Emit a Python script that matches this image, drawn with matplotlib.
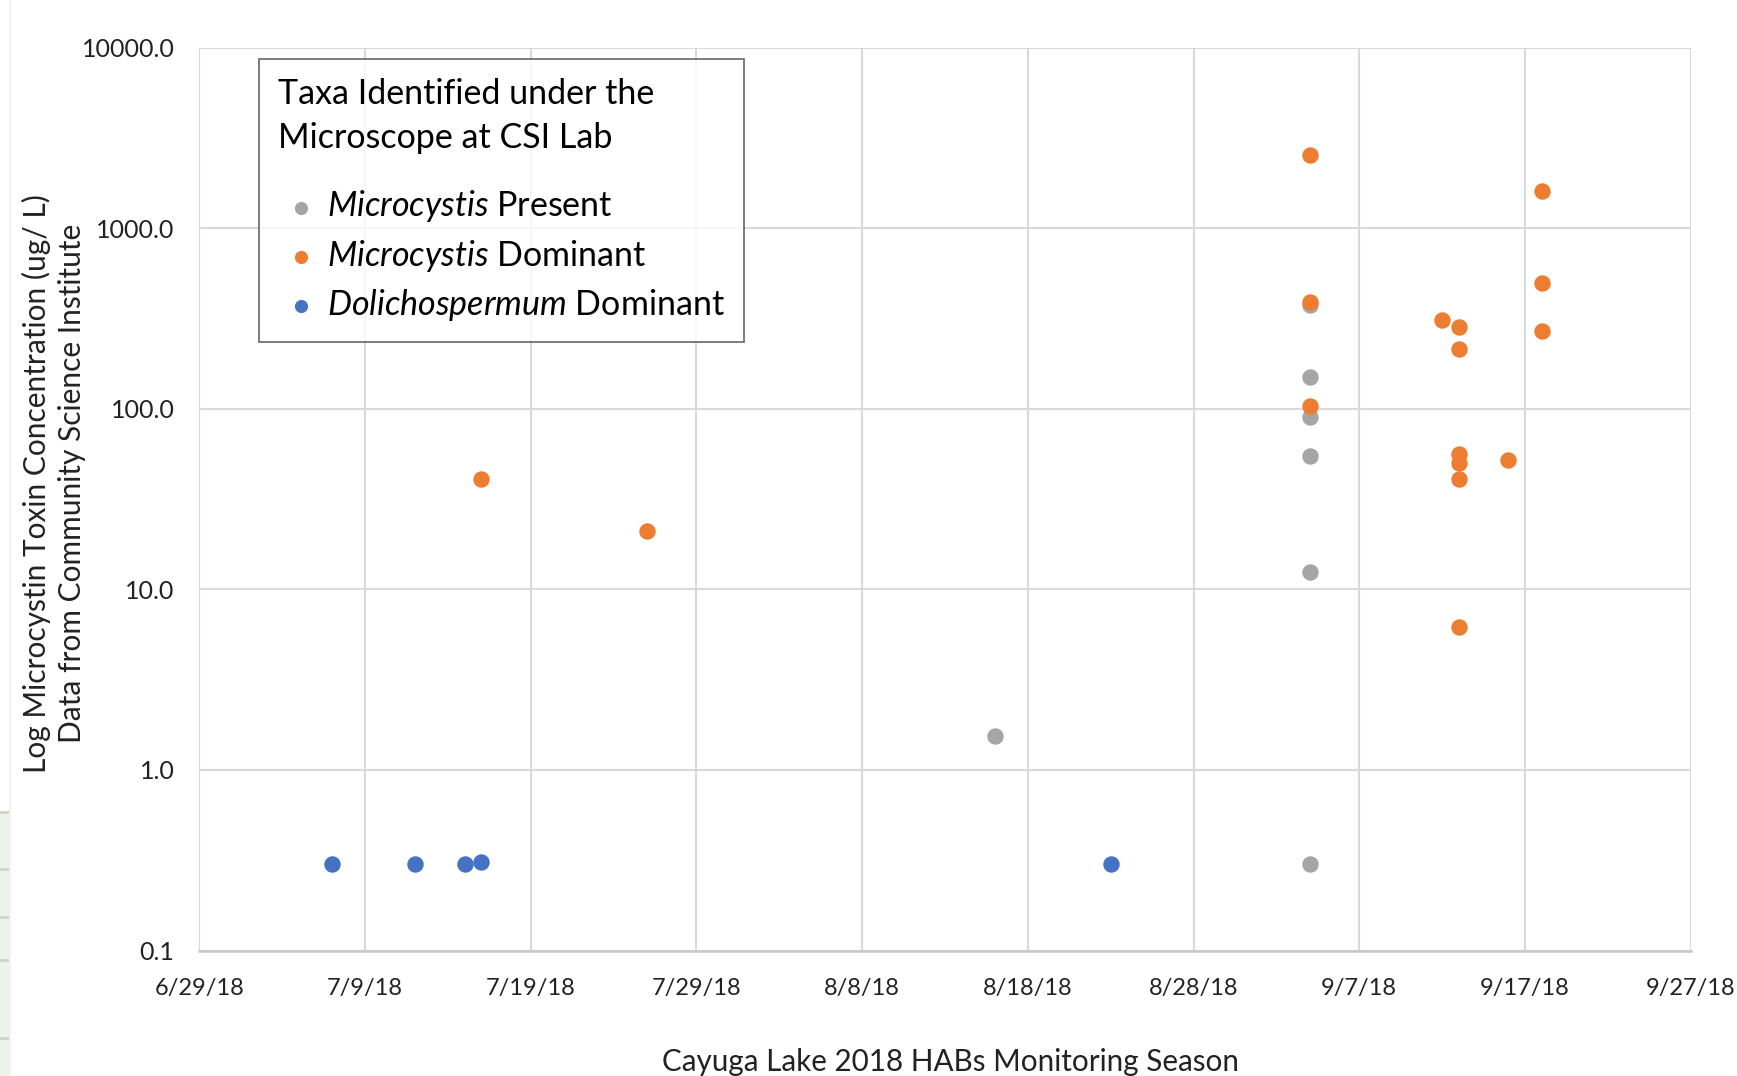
import datetime as dt
import matplotlib
matplotlib.use("Agg")
import matplotlib.pyplot as plt
import matplotlib.dates as mdates
from matplotlib.patches import Rectangle
from matplotlib.ticker import FixedLocator, FuncFormatter

plt.rcParams['font.family'] = ['Lato', 'DejaVu Sans']
plt.rcParams['mathtext.fontset'] = 'custom'
plt.rcParams['mathtext.it'] = 'Lato:italic'
plt.rcParams['mathtext.rm'] = 'Lato'

# Microcystis present (gray)
present_dates = ["2018-08-16", "2018-09-04", "2018-09-04", "2018-09-04",
                 "2018-09-04", "2018-09-04", "2018-09-04"]
present_vals = [1.55, 0.30, 12.4, 54.8, 90.0, 150.0, 374.0]

# Microcystis dominant (orange)
dominant_dates = ["2018-07-16", "2018-07-26", "2018-09-04", "2018-09-04", "2018-09-04",
                  "2018-09-12", "2018-09-13", "2018-09-13", "2018-09-13", "2018-09-13",
                  "2018-09-13", "2018-09-13", "2018-09-16", "2018-09-18", "2018-09-18",
                  "2018-09-18"]
dominant_vals = [41.0, 21.1, 2530.0, 392.0, 103.0,
                 312.0, 283.0, 213.0, 56.2, 49.8,
                 41.0, 6.15, 52.3, 1611.0, 500.0,
                 271.0]

# Dolichospermum dominant (blue)
dolicho_dates = ["2018-07-07", "2018-07-12", "2018-07-15", "2018-07-16", "2018-08-23"]
dolicho_vals = [0.30, 0.30, 0.30, 0.31, 0.30]

x_ticks = ["2018-06-29", "2018-07-09", "2018-07-19", "2018-07-29", "2018-08-08",
           "2018-08-18", "2018-08-28", "2018-09-07", "2018-09-17", "2018-09-27"]
x_tick_labels = ["6/29/18", "7/9/18", "7/19/18", "7/29/18", "8/8/18",
                 "8/18/18", "8/28/18", "9/7/18", "9/17/18", "9/27/18"]
y_ticks = [0.1, 1, 10, 100, 1000, 10000]

GRAY = '#A5A5A5'
ORANGE = '#ED7D31'
BLUE = '#4472C4'


def to_dates(lst):
    return [dt.datetime.strptime(s, "%Y-%m-%d") for s in lst]


fig = plt.figure(figsize=(17.37, 10.76), dpi=100, facecolor='white')

# bit of spreadsheet showing at the left edge of the screenshot
fig.patches.append(Rectangle((0, 0), 0.0052, 0.2454, transform=fig.transFigure,
                             facecolor='#EDF3EA', edgecolor='none', zorder=0))
for yy in [0.2454, 0.1924, 0.1478, 0.1078, 0.0353]:
    fig.lines.append(plt.Line2D([0, 0.0052], [yy, yy], transform=fig.transFigure,
                                color='#C9D6C3', lw=2))
fig.lines.append(plt.Line2D([0.0058, 0.0058], [0, 1], transform=fig.transFigure,
                            color='#F2F2F2', lw=1.5))

ax = fig.add_axes([0.1148, 0.1166, 0.8585, 0.8392])

ms = 140
ax.scatter(to_dates(present_dates), present_vals, s=ms, color=GRAY, lw=0, zorder=3,
           label=r'$\mathit{Microcystis}$ Present')
ax.scatter(to_dates(dominant_dates), dominant_vals, s=ms, color=ORANGE, lw=0, zorder=4,
           label=r'$\mathit{Microcystis}$ Dominant')
ax.scatter(to_dates(dolicho_dates), dolicho_vals, s=ms, color=BLUE, lw=0, zorder=5,
           label=r'$\mathit{Dolichospermum}$ Dominant')

ax.set_yscale('log')
ax.set_ylim(0.1, 10000)
xt = mdates.date2num(to_dates(x_ticks))
ax.set_xlim(xt[0], xt[-1])
ax.set_xticks(xt)
ax.set_xticklabels(x_tick_labels)
ax.yaxis.set_major_locator(FixedLocator(y_ticks))
ax.yaxis.set_minor_locator(FixedLocator([]))
ax.yaxis.set_major_formatter(FuncFormatter(lambda v, p: f"{v:.1f}"))

ax.grid(True, which='major', color='#D9D9D9', linewidth=1.5)
ax.set_axisbelow(True)
for s in ['top', 'right', 'left']:
    ax.spines[s].set_visible(False)
ax.spines['bottom'].set_color('#C8C8C8')
ax.spines['bottom'].set_linewidth(1.8)
ax.tick_params(axis='y', length=0, pad=18, labelsize=18, labelcolor='#222222')
ax.tick_params(axis='x', length=0, pad=20, labelsize=17, labelcolor='#222222')

leg = ax.legend(title="Taxa Identified under the\nMicroscope at CSI Lab",
                loc='upper left', bbox_to_anchor=(0.040, 0.987),
                alignment='left', fontsize=24.5, title_fontsize=24.5,
                frameon=True, fancybox=False, edgecolor='#404040',
                handlelength=1.35, handletextpad=0.1, labelspacing=0.39,
                borderpad=0.55, markerscale=0.8, borderaxespad=0)
leg.get_frame().set_linewidth(1.2)
leg.get_title().set_linespacing(1.45)
leg._legend_box.sep = 25

fig.text(0.031, 0.551,
         "Log Microcystin Toxin Concentration (ug/ L)\nData from Community Science Institute",
         rotation=90, ha='center', va='center', ma='center', fontsize=21.5,
         linespacing=1.27, color='#222222')
fig.text(0.547, 0.013, "Cayuga Lake 2018 HABs Monitoring Season",
         ha='center', va='center', fontsize=21.3, color='#222222')

plt.savefig("out.png", dpi=100, facecolor='white')
